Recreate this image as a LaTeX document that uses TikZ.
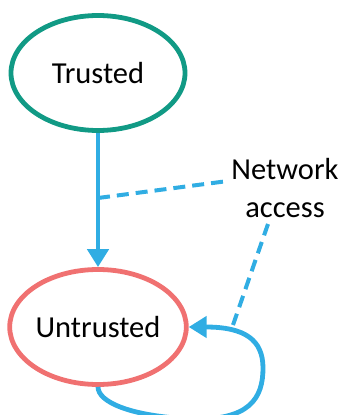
\documentclass[tikz,border=0pt]{standalone}
\usepackage{fontspec}
\setmainfont{Carlito}
\usetikzlibrary{shapes.geometric,arrows.meta}
\definecolor{tgreen}{HTML}{119A85}
\definecolor{ured}{HTML}{F07171}
\definecolor{ablue}{HTML}{30ADE3}
\tikzset{
  state/.style={ellipse, draw, line width=4.8pt, minimum width=174pt, minimum height=115pt, inner sep=0pt, font=\fontsize{30.5}{36}\selectfont},
  flow/.style={draw=ablue, line width=4.8pt, -{Triangle[width=21pt,length=18pt]}},
  dashlink/.style={draw=ablue, line width=4pt, dash pattern=on 12pt off 7pt},
  lbl/.style={align=center, font=\fontsize{30.5}{38}\selectfont, inner sep=0pt}
}
\begin{document}
\begin{tikzpicture}[x=1pt,y=-1pt]
\useasboundingbox (0,0) rectangle (343,415);
\node[state, draw=tgreen] (t) at (98,73) {Trusted};
\node[state, draw=ured] (u) at (98,327) {Untrusted};
\node[lbl] (na) at (285,188) {Network\\access};
\draw[flow] (t.south) -- (u.north);
\coordinate (m) at (98,198);
\coordinate (n1) at (228,181);
\coordinate (n2) at (268,224);
\coordinate (n3) at (233,325);
\draw[dashlink] (m) -- (n1);
\draw[dashlink] (n2) -- (n3);
\draw[flow] (u.south) .. controls (98,402) and (130,416) .. (190,419) .. controls (250,421) and (263,398) .. (263,368) .. controls (263,340) and (245,327) .. (u.east);
\end{tikzpicture}
\end{document}
